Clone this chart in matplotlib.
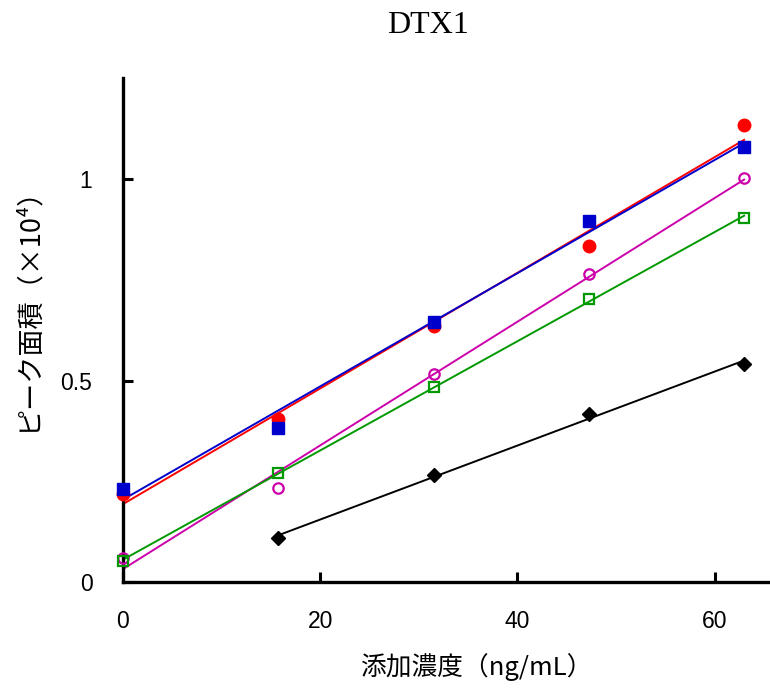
import numpy as np
import matplotlib
matplotlib.use("Agg")
import matplotlib.pyplot as plt

plt.rcParams['font.family'] = ['Noto Sans CJK JP', 'DejaVu Sans']

# spiked concentration (ng/mL)
conc = [0, 15.75, 31.5, 47.25, 63.0]

# peak area (x10^4)
red_y = [0.219, 0.405, 0.636, 0.835, 1.135]
blue_y = [0.231, 0.383, 0.646, 0.897, 1.081]
mag_y = [0.060, 0.234, 0.517, 0.765, 1.004]
green_y = [0.052, 0.271, 0.484, 0.703, 0.904]
black_x = [15.75, 31.5, 47.25, 63.0]
black_y = [0.109, 0.266, 0.417, 0.541]

series = [
    (conc, red_y, '#ff0000', 'o', True, 9),
    (conc, blue_y, '#0000cc', 's', True, 8),
    (conc, mag_y, '#cc00aa', 'o', False, 7.5),
    (conc, green_y, '#009900', 's', False, 7.5),
    (black_x, black_y, '#000000', 'D', True, 7.5),
]

fig = plt.figure(figsize=(7.7, 6.88), dpi=100)
ax = fig.add_axes([0.1597, 0.154, 0.84, 0.7326])

for xs, ys, col, mk, filled, ms in series:
    k, b = np.polyfit(xs, ys, 1)
    xl = np.array([min(xs), max(xs)])
    ax.plot(xl, k * xl + b, '-', color=col, lw=1.4, zorder=2)
    if filled:
        ax.plot(xs, ys, mk, color=col, ms=ms, mec=col, zorder=3, clip_on=False)
    else:
        ax.plot(xs, ys, mk, mfc='none', mec=col, mew=1.6, ms=ms, zorder=3, clip_on=False)

ax.set_xlim(0, 65.6)
ax.set_ylim(0, 1.252)
ax.set_xticks([0, 20, 40, 60])
ax.set_yticks([0, 0.5, 1])
ax.set_yticklabels(['0', '0.5', '1'])
ax.tick_params(direction='in', length=7, width=2.2, labelsize=16.5)
ax.tick_params(axis='y', pad=22)
ax.tick_params(axis='x', pad=20)
for lab in ax.get_xticklabels() + ax.get_yticklabels():
    lab.set_family('Liberation Sans')
for s in ['top', 'right']:
    ax.spines[s].set_visible(False)
for s in ['left', 'bottom']:
    ax.spines[s].set_linewidth(2.4)

fig.text(428 / 770, 1 - 25.5 / 688, 'DTX1', family='Liberation Serif', fontsize=23,
         ha='center', va='center')
fig.text(477 / 770, 1 - 667 / 688, '添加濃度（ng/mL）', fontsize=18.5,
         ha='center', va='center')
fig.text(28 / 770, 1 - 303 / 688, 'ピーク面積（×10⁴）', fontsize=19.5,
         rotation=90, ha='center', va='center')

fig.savefig('out.png', dpi=100)
